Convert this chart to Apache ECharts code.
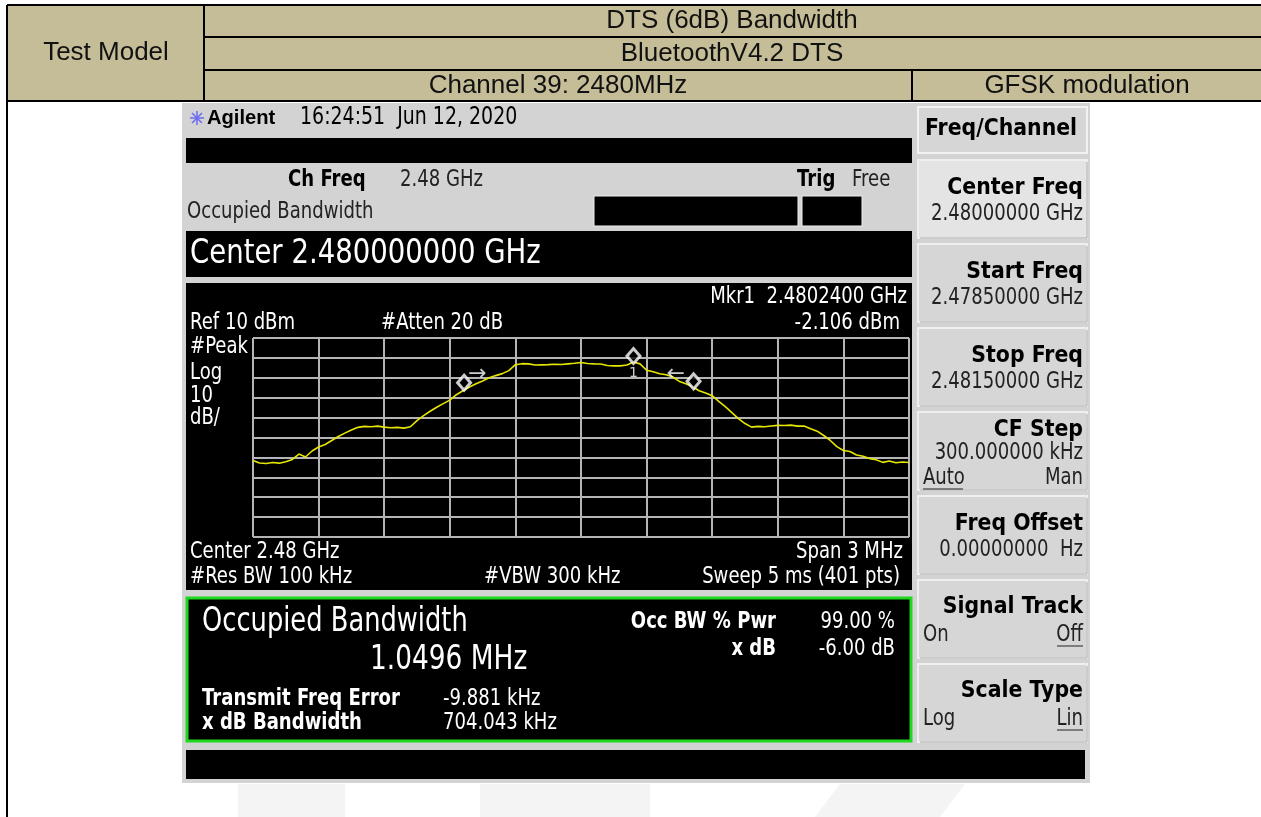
<!DOCTYPE html>
<html>
<head>
<meta charset="utf-8">
<title>DTS (6dB) Bandwidth - Channel 39</title>
<script src="https://cdn.jsdelivr.net/npm/echarts@6/dist/echarts.min.js"></script>
<style>
  html, body { margin: 0; padding: 0; background: #fff; }
  #chart { width: 1261px; height: 817px; }
</style>
</head>
<body>
<div id="chart"></div>
<script>
// sweep 2.4785 - 2.4815 GHz, x is offset from 2.48 GHz in kHz
const sweepStartKHz = -1500
const sweepStopKHz = 1500
const sweepStepKHz = 30
const refLevel = 10
const dbPerDiv = 10

// trace (dBm), one value per 30 kHz
const traceDbm = [
  -51.5, -52.8, -53.1, -52.6, -52.9, -52.2, -51.0, -48.3, -49.8, -46.8,
  -44.8, -43.5, -41.5, -39.5, -37.8, -36.2, -34.9, -34.4, -34.6, -34.3,
  -34.8, -35.1, -34.9, -35.3, -34.6, -31.5, -29.0, -26.8, -24.8, -23.0,
  -21.2, -18.5, -16.5, -14.6, -13.0, -11.6, -10.0, -8.9, -7.9, -6.4,
  -3.4, -2.9, -3.0, -3.6, -3.5, -3.4, -3.2, -3.3, -3.0, -2.7,
  -2.3, -2.8, -3.0, -3.1, -3.8, -4.0, -4.0, -3.6, -2.1, -3.0,
  -6.2, -7.0, -8.0, -8.5, -9.6, -11.8, -13.0, -14.5, -16.5, -17.6,
  -19.0, -21.8, -24.5, -27.5, -30.5, -33.0, -34.8, -34.4, -34.6, -34.2,
  -33.9, -34.0, -33.8, -34.3, -34.2, -35.6, -36.8, -39.0, -41.5, -44.6,
  -46.5, -47.0, -48.8, -49.4, -50.6, -51.2, -52.5, -51.8, -52.7, -52.3,
  -52.6
]

// OBW left edge, Mkr1, OBW right edge
const markerKHz = [-534.7, 240, 514.9]
const markerDbm = [-15.5, -2.106, -14.8]
const markerNames = ['', '1', '']

// x dB arrows
const arrowKHz = [-474, 433]
const arrowDbm = [-8, -8]
const arrowGlyphs = ['\u2192', '\u2190']

// header table
const tableRows = ['DTS (6dB) Bandwidth', 'BluetoothV4.2 DTS', 'Channel 39: 2480MHz', 'GFSK modulation']

// softkeys
const softkeyTitles = ['Center Freq', 'Start Freq', 'Stop Freq', 'CF Step', 'Freq Offset', 'Signal Track', 'Scale Type']
const softkeyValues = ['2.48000000 GHz', '2.47850000 GHz', '2.48150000 GHz', '300.000000 kHz', '0.00000000  Hz', '', '']
const softkeyOptions = [null, null, null, ['Auto', 'Man'], null, ['On', 'Off'], ['Log', 'Lin']]

const chart = echarts.init(document.getElementById('chart'))

const FONT = '"DejaVu Sans"'
const els = []
const box = (x1, y1, x2, y2, fill, stroke, lw) => els.push({
  type: 'rect', z: -5, silent: true,
  shape: { x: x1, y: y1, width: x2 - x1, height: y2 - y1 },
  style: { fill: fill, stroke: stroke || null, lineWidth: lw || 0 }
})
const line = (x1, y1, x2, y2, color, lw) => els.push({
  type: 'line', z: -4, silent: true,
  shape: { x1: x1, y1: y1, x2: x2, y2: y2 },
  style: { stroke: color, lineWidth: lw }
})
// analyzer text is tall and narrow: larger size squeezed horizontally
const label = (x, y, text, o) => {
  o = o || {}
  const align = o.align || 'left'
  els.push({
    type: 'text', z: 10, silent: true, x: x, y: y, scaleX: o.sx || 0.785,
    style: {
      text: text, fill: o.color || '#000',
      font: (o.bold ? 'bold ' : '') + (o.size || 23) + 'px ' + (o.family || FONT),
      textAlign: align, align: align,
      textVerticalAlign: 'middle', verticalAlign: 'middle'
    }
  })
}

// ---- report table ----
box(7, 5, 1261, 101, '#C4BD97')
line(7, 5, 1261, 5, '#000', 2)
line(7, 5, 7, 817, '#000', 2)
line(204, 5, 204, 101, '#000', 2)
line(204, 37, 1261, 37, '#000', 2)
line(204, 70, 1261, 70, '#000', 2)
line(7, 101, 1261, 101, '#000', 2)
line(912, 70, 912, 101, '#000', 2)
const tableFont = { family: '"Liberation Sans", Arial', size: 26, sx: 1, align: 'center', color: '#111' }
label(106, 53, 'Test Model', tableFont)
label(732, 21, tableRows[0], tableFont)
label(732, 54, tableRows[1], tableFont)
label(558, 86, tableRows[2], tableFont)
label(1087, 86, tableRows[3], tableFont)

// faint watermark under the screenshot
box(238, 784, 345, 817, '#F4F4F4')
box(480, 784, 650, 817, '#F4F4F4')
els.push({ type: 'polygon', z: -5, silent: true, shape: { points: [[840, 784], [965, 784], [940, 817], [815, 817]] }, style: { fill: '#F4F4F4' } })

// ---- analyzer screen ----
box(182, 103, 1090, 783, '#D3D3D3')

// logo + title row
;[0, 45, 90, 135].forEach(a => {
  const r = a * Math.PI / 180
  line(197 - 7 * Math.cos(r), 118 - 7 * Math.sin(r), 197 + 7 * Math.cos(r), 118 + 7 * Math.sin(r), '#6A6AF0', 1.5)
})
label(207, 118, 'Agilent', { bold: true, size: 21, sx: 0.96, family: '"Liberation Sans", Arial' })
label(300, 118, '16:24:51  Jun 12, 2020', { size: 24, sx: 0.79 })
box(186, 138, 912, 163, '#000')

label(288, 180, 'Ch Freq', { bold: true })
label(400, 180, '2.48 GHz', { color: '#222' })
label(797, 180, 'Trig', { bold: true })
label(852, 180, 'Free', { color: '#222' })
label(187, 212, 'Occupied Bandwidth', { color: '#222' })
box(594, 196, 798, 226, '#000', '#EEE', 1)
box(802, 196, 862, 226, '#000', '#EEE', 1)

box(186, 231, 912, 277, '#000')
label(190, 254, 'Center 2.480000000 GHz', { color: '#fff', size: 34, sx: 0.81 })

// plot panel
box(186, 283, 912, 590, '#000')
label(907, 297, 'Mkr1  2.4802400 GHz', { color: '#fff', align: 'right' })
label(190, 323, 'Ref 10 dBm', { color: '#fff' })
label(381, 323, '#Atten 20 dB', { color: '#fff' })
label(900, 323, '-2.106 dBm', { color: '#fff', align: 'right' })
label(190, 347, '#Peak', { color: '#fff' })
label(190, 373, 'Log', { color: '#fff' })
label(190, 396, '10', { color: '#fff' })
label(190, 418, 'dB/', { color: '#fff' })
label(190, 552, 'Center 2.48 GHz', { color: '#fff' })
label(903, 552, 'Span 3 MHz', { color: '#fff', align: 'right' })
label(190, 577, '#Res BW 100 kHz', { color: '#fff' })
label(484, 577, '#VBW 300 kHz', { color: '#fff' })
label(900, 577, 'Sweep 5 ms (401 pts)', { color: '#fff', align: 'right' })

// result box
box(187, 598, 911, 741, '#000', '#1ED81E', 3)
label(202, 622, 'Occupied Bandwidth', { color: '#fff', size: 33, sx: 0.78 })
label(370, 660, '1.0496 MHz', { color: '#fff', size: 33, sx: 0.8 })
label(202, 699, 'Transmit Freq Error', { color: '#fff', bold: true })
label(443, 699, '-9.881 kHz', { color: '#fff' })
label(202, 723, 'x dB Bandwidth', { color: '#fff', bold: true })
label(443, 723, '704.043 kHz', { color: '#fff' })
label(776, 622, 'Occ BW % Pwr', { color: '#fff', bold: true, align: 'right' })
label(895, 622, '99.00 %', { color: '#fff', align: 'right' })
label(776, 649, 'x dB', { color: '#fff', bold: true, align: 'right' })
label(895, 649, '-6.00 dB', { color: '#fff', align: 'right' })

box(186, 750, 1085, 779, '#000')

// softkeys
box(918, 107, 1087, 153, '#D6D6D6', '#F2F2F2', 2)
label(1001, 129, 'Freq/Channel', { bold: true, size: 23, sx: 0.89, align: 'center' })
softkeyTitles.forEach((t, i) => {
  const top = 160 + i * 84
  box(918, top, 1087, top + 78, i === 0 ? '#E4E4E4' : '#D6D6D6', '#EFEFEF', 2)
  line(1087, top + 2, 1087, top + 78, '#A9A9A9', 1)
  line(920, top + 78, 1087, top + 78, '#A9A9A9', 1)
  const opts = softkeyOptions[i]
  const titleY = opts && softkeyValues[i] ? top + 18 : (opts ? top + 27 : top + 28)
  label(1083, titleY, t, { bold: true, size: 23, sx: 0.89, align: 'right' })
  if (softkeyValues[i]) label(1083, opts ? top + 41 : top + 54, softkeyValues[i], { color: '#222', align: 'right' })
  if (opts) {
    const oy = softkeyValues[i] ? top + 66 : top + 55
    label(923, oy, opts[0], { color: '#222' })
    label(1083, oy, opts[1], { color: '#222', align: 'right' })
  }
})
// underlines for the selected options
line(923, 489, 963, 489, '#222', 1)
line(1057, 646, 1083, 646, '#222', 1)
line(1057, 730, 1083, 730, '#222', 1)

const traceData = traceDbm.map((v, i) => [sweepStartKHz + i * sweepStepKHz, v])

const option = {
  animation: false,
  backgroundColor: '#fff',
  grid: { left: 253, top: 338, width: 656, height: 199 },
  xAxis: {
    type: 'value', min: sweepStartKHz, max: sweepStopKHz, interval: 300, z: 3,
    axisLabel: { show: false }, axisTick: { show: false }, axisLine: { show: false },
    splitLine: { show: true, lineStyle: { color: '#B4B4B4', width: 2 } }
  },
  yAxis: {
    type: 'value', min: refLevel - 10 * dbPerDiv, max: refLevel, interval: dbPerDiv, z: 3,
    axisLabel: { show: false }, axisTick: { show: false }, axisLine: { show: false },
    splitLine: { show: true, lineStyle: { color: '#B4B4B4', width: 2 } }
  },
  series: [
    {
      type: 'line', data: traceData, showSymbol: false, z: 5,
      lineStyle: { color: '#E6E600', width: 1.6 }
    },
    {
      type: 'scatter', z: 6,
      data: markerKHz.map((x, i) => ({
        value: [x, markerDbm[i]],
        label: { show: !!markerNames[i], formatter: markerNames[i] }
      })),
      symbol: 'diamond', symbolSize: [13, 15], symbolOffset: [0, -6],
      itemStyle: { color: '#000', borderColor: '#fff', borderWidth: 3 },
      label: { position: 'bottom', distance: 1, color: '#fff', fontSize: 14, fontFamily: 'DejaVu Sans' }
    },
    {
      type: 'scatter', z: 6,
      data: arrowKHz.map((x, i) => ({ value: [x, arrowDbm[i]], label: { formatter: arrowGlyphs[i] } })),
      symbol: 'circle', symbolSize: 1, itemStyle: { color: 'rgba(0,0,0,0)' },
      label: { show: true, position: 'inside', color: '#fff', fontSize: 22, fontFamily: 'DejaVu Sans' }
    }
  ],
  graphic: { elements: els }
}

chart.setOption(option)
</script>
</body>
</html>
